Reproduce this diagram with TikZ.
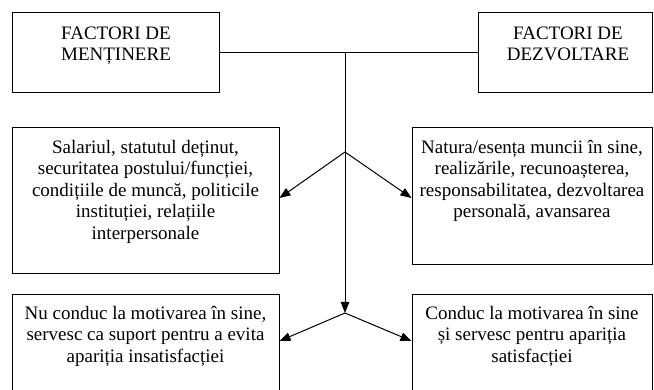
\documentclass[tikz,border=0pt]{standalone}
\usepackage{fontspec}
\setmainfont{Liberation Serif}
\usetikzlibrary{arrows.meta}

\begin{document}
\begin{tikzpicture}[x=1pt,y=-1pt,
	box/.style={draw, line width=1pt, inner sep=0pt},
	txt/.style={align=center, anchor=north, inner sep=0pt, font=\fontsize{19}{21.5}\selectfont},
	arr/.style={-{Triangle[length=11pt,width=8.5pt]}, line width=1pt}]
		\useasboundingbox (0,0) rectangle (654,390);
		
		% boxes
		\node[box, minimum width=207pt, minimum height=80pt] (mentinere) at (115.5,53) {};
		\node[box, minimum width=174pt, minimum height=80pt] (dezvoltare) at (565,53) {};
		\node[box, minimum width=267pt, minimum height=146pt] (salariul) at (145.5,201) {};
		\node[box, minimum width=240pt, minimum height=137pt] (natura) at (532,196.5) {};
		\node[box, minimum width=267pt, minimum height=110pt] (nuconduc) at (145.5,350) {};
		\node[box, minimum width=240pt, minimum height=110pt] (conduc) at (532,350) {};
		
		% texts
		\node[txt] (tmentinere) at (116,26.5) {FACTORI DE\\MENȚINERE};
		\node[txt] (tdezvoltare) at (568,26.5) {FACTORI DE\\DEZVOLTARE};
		\node[txt] (tsalariul) at (145.5,140) {Salariul, statutul deținut,\\securitatea postului/funcției,\\condițiile de muncă, politicile\\instituției, relațiile\\interpersonale};
		\node[txt] (tnatura) at (532,140) {Natura/esența muncii în sine,\\realizările, recunoașterea,\\responsabilitatea, dezvoltarea\\personală, avansarea};
		\node[txt] (tnuconduc) at (145.5,306) {Nu conduc la motivarea în sine,\\servesc ca suport pentru a evita\\apariția insatisfacției};
		\node[txt] (tconduc) at (532,306) {Conduc la motivarea în sine\\și servesc pentru apariția\\satisfacției};
		
		% connectors
		\coordinate (top) at (345,53);
		\coordinate (mid) at (345,152);
		\coordinate (low) at (345,313);
		\draw[line width=1pt] (mentinere.east) -- (dezvoltare.west);
		\draw[arr] (top) -- (low);
		\draw[arr] (mid) -- ([yshift=3pt]salariul.east);
		\draw[arr] (mid) -- ([yshift=-1.5pt]natura.west);
		\draw[arr] (low) -- ([yshift=9pt]nuconduc.east);
		\draw[arr] (low) -- ([yshift=9pt]conduc.west);
	\end{tikzpicture}
\end{document}
